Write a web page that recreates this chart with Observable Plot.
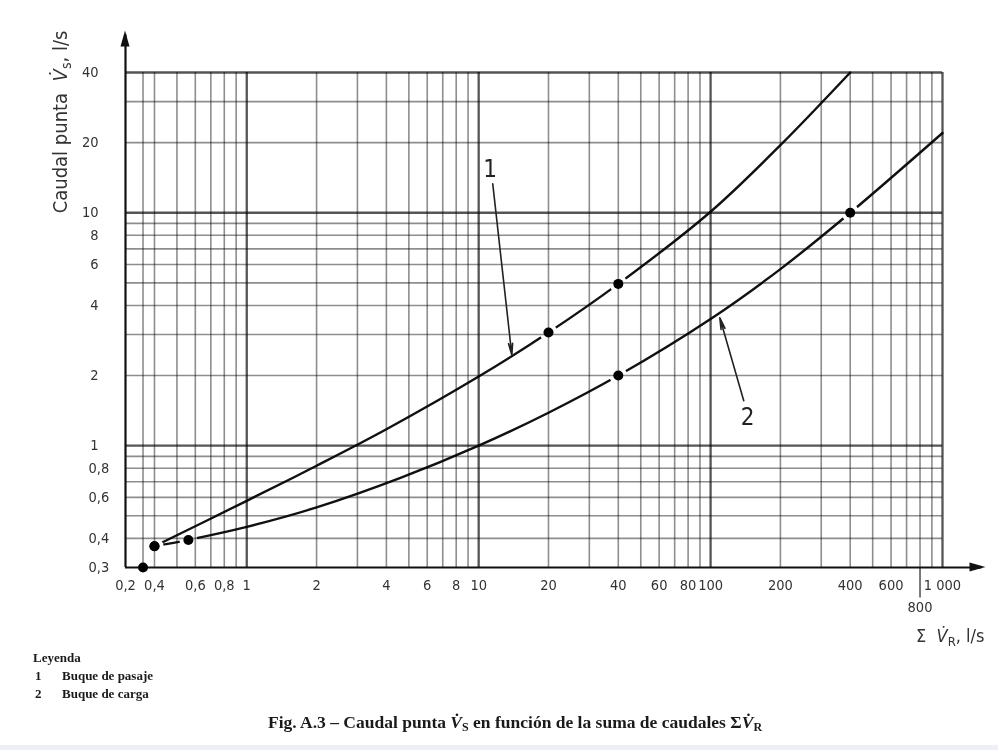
<!DOCTYPE html>
<html>
<head>
<meta charset="utf-8">
<script src="https://cdn.jsdelivr.net/npm/d3@7"></script>
<script src="https://cdn.jsdelivr.net/npm/@observablehq/plot@0.6"></script>
<style>
  html, body { margin: 0; padding: 0; background: #fff; }
  body { width: 998px; height: 750px; overflow: hidden; position: relative; }
  #chart { position: absolute; left: 0; top: 0; }
  .legend { position: absolute; left: 33px; top: 649px; font-family: "Liberation Serif", serif; font-weight: bold; font-size: 13px; color: #1a1a1a; line-height: 18px; }
  .legend .n { display: inline-block; width: 27px; padding-left: 2px; }
  .caption { position: absolute; left: 268px; top: 711px; font-family: "Liberation Serif", serif; font-weight: bold; font-size: 17.5px; line-height: 22px; color: #1a1a1a; white-space: nowrap; }
  .caption sub { font-size: 12px; vertical-align: -3px; line-height: 0; }
  .band { position: absolute; left: 0; top: 745px; width: 998px; height: 5px; background: #eeeef5; }
</style>
</head>
<body>
<div id="chart"></div>
<div class="legend">
  <div>Leyenda</div>
  <div><span class="n">1</span>Buque de pasaje</div>
  <div><span class="n">2</span>Buque de carga</div>
</div>
<div class="caption">Fig. A.3 – Caudal punta <i>V̇</i><sub>S</sub> en función de la suma de caudales Σ<i>V̇</i><sub>R</sub></div>
<div class="band"></div>
<script>
// ---- data ----
const xDomain = [0.3, 1000];
const yDomain = [0.3, 40];

// curve 1: Buque de pasaje
const curve1X = [0.4, 1, 2, 4, 10, 20, 40, 100, 200, 400];
const curve1Y = [0.37, 0.58, 0.82, 1.176, 1.98, 3.06, 4.95, 10.1, 19.5, 40];
// curve 2: Buque de carga
const curve2X = [0.4, 0.56, 1, 2, 4.6, 10, 20, 40, 100, 200, 400, 1000];
const curve2Y = [0.37, 0.394, 0.448, 0.543, 0.727, 1.0, 1.385, 2.0, 3.5, 5.73, 10, 22];

// marked points
const dots1X = [0.4, 20, 40];
const dots1Y = [0.37, 3.06, 4.95];
const dots2X = [0.4, 0.56, 40, 400];
const dots2Y = [0.37, 0.394, 2, 10];
const dotsOtherX = [0.357];
const dotsOtherY = [0.3];

// tick labels
const xTickValues = [0.3, 0.4, 0.6, 0.8, 1, 2, 4, 6, 8, 10, 20, 40, 60, 80, 100, 200, 400, 600, 1000];
const xTickLabels = ["0,2", "0,4", "0,6", "0,8", "1", "2", "4", "6", "8", "10", "20", "40", "60", "80", "100", "200", "400", "600", "1 000"];
const xTickLowValues = [800];
const xTickLowLabels = ["800"];
const yTickValues = [0.3, 0.4, 0.6, 0.8, 1, 2, 4, 6, 8, 10, 20, 40];
const yTickLabels = ["0,3", "0,4", "0,6", "0,8", "1", "2", "4", "6", "8", "10", "20", "40"];

// grid lines
const xGridMinor = [0.357, 0.4, 0.5, 0.6, 0.7, 0.8, 0.9, 2, 3, 4, 5, 6, 7, 8, 9, 20, 30, 40, 50, 60, 70, 80, 90, 200, 300, 400, 500, 600, 700, 800, 900];
const xGridMajor = [1, 10, 100, 1000];
const yGridMinor = [0.4, 0.5, 0.6, 0.7, 0.8, 0.9, 2, 3, 4, 5, 6, 7, 8, 9, 20, 30];
const yGridMajor = [1, 10, 40];

// axis extents beyond the grid (arrow tips)
const xAxisEnd = 1480;
const yAxisEnd = 58;
const tick800End = 0.222;

// curve labels with leader arrows
const calloutLabels = ["1", "2"];
const calloutTextX = [11.2, 144.6];
const calloutTextY = [15.4, 1.32];
const calloutFromX = [11.5, 139];
const calloutFromY = [13.3, 1.56];
const calloutToX = [13.9, 109.6];
const calloutToY = [2.45, 3.54];

// ---- tables built from the arrays ----
const zip = (xs, ys) => xs.map((x, i) => ({x, y: ys[i]}));
const curve1 = zip(curve1X, curve1Y);
const curve2 = zip(curve2X, curve2Y);
const dots1 = zip(dots1X, dots1Y);
const dots2 = zip(dots2X, dots2Y);
const dotsAll = [...dots1, ...dots2, ...zip(dotsOtherX, dotsOtherY)];
const xTicks = xTickValues.map((v, i) => ({v, label: xTickLabels[i]}));
const xTicksLow = xTickLowValues.map((v, i) => ({v, label: xTickLowLabels[i]}));
const yTicks = yTickValues.map((v, i) => ({v, label: yTickLabels[i], dec: yTickLabels[i].includes(",")}));
const callouts = calloutLabels.map((label, i) => ({
  label, tx: calloutTextX[i], ty: calloutTextY[i],
  x1: calloutFromX[i], y1: calloutFromY[i], x2: calloutToX[i], y2: calloutToY[i]
}));

const FONT = "'DejaVu Sans Condensed', 'DejaVu Sans', sans-serif";
const W = 998, H = 650;
const mTop = 72, mBottom = H - 567, mLeft = 125, mRight = W - 942;

const plot = Plot.plot({
  width: W,
  height: H,
  marginLeft: mLeft,
  marginRight: mRight,
  marginTop: mTop,
  marginBottom: mBottom,
  x: {type: "log", domain: xDomain, axis: null},
  y: {type: "log", domain: yDomain, axis: null},
  style: {background: "transparent", overflow: "visible", fontFamily: FONT},
  marks: [
    Plot.line(curve2, {x: "x", y: "y", curve: "catmull-rom", stroke: "#111", strokeWidth: 2.4}),
    Plot.dot(dots2, {x: "x", y: "y", r: 9, fill: "white", stroke: "none"}),
    Plot.line(curve1, {x: "x", y: "y", curve: "catmull-rom", stroke: "#111", strokeWidth: 2.4}),
    Plot.dot(dots1, {x: "x", y: "y", r: 9, fill: "white", stroke: "none"}),
    // grid (multiplied so curves stay black)
    Plot.ruleX(xGridMinor, {stroke: "#8e8e8e", strokeWidth: 1.6, mixBlendMode: "multiply"}),
    Plot.ruleY(yGridMinor, {stroke: "#8e8e8e", strokeWidth: 1.6, mixBlendMode: "multiply"}),
    Plot.ruleX(xGridMajor, {stroke: "#555", strokeWidth: 2.3, mixBlendMode: "multiply"}),
    Plot.ruleY(yGridMajor, {stroke: "#555", strokeWidth: 2.3, mixBlendMode: "multiply"}),
    // 800 tick extends below the axis
    Plot.ruleX(xTicksLow, {x: "v", y1: yDomain[0], y2: tick800End, stroke: "#5a5a5a", strokeWidth: 1.6}),
    // axes
    Plot.ruleY([yDomain[0]], {x1: xDomain[0], x2: xAxisEnd, stroke: "#111", strokeWidth: 2.2}),
    Plot.ruleX([xDomain[0]], {y1: yDomain[0], y2: yAxisEnd, stroke: "#111", strokeWidth: 2.2}),
    // points
    Plot.dot(dotsAll, {x: "x", y: "y", r: 5, fill: "#000"}),
    // callouts
    Plot.arrow(callouts, {x1: "x1", y1: "y1", x2: "x2", y2: "y2", stroke: "#222", strokeWidth: 1.6, headLength: 11, headAngle: 20}),
    Plot.text(callouts, {x: "tx", y: "ty", text: "label", fontSize: 24, fill: "#222", fontFamily: FONT}),
    // tick labels
    Plot.text(xTicks, {x: "v", text: "label", frameAnchor: "bottom", dy: 22, fontSize: 14.5, fill: "#333", fontFamily: FONT}),
    Plot.text(xTicksLow, {x: "v", text: "label", frameAnchor: "bottom", dy: 44, fontSize: 14.5, fill: "#333", fontFamily: FONT}),
    Plot.text(yTicks.filter(d => !d.dec), {y: "v", text: "label", frameAnchor: "left", textAnchor: "end", dx: -27, fontSize: 14.5, fill: "#333", fontFamily: FONT}),
    Plot.text(yTicks.filter(d => d.dec), {y: "v", text: "label", frameAnchor: "left", textAnchor: "start", dx: -37, fontSize: 14.5, fill: "#333", fontFamily: FONT})
  ]
});

document.getElementById("chart").appendChild(plot);

// arrowheads and axis titles placed through the plot's scales
const sx = plot.scale("x"), sy = plot.scale("y");
const px = v => sx.apply(v), py = v => sy.apply(v);
const svg = d3.select(plot);
const ax0 = px(xDomain[0]), ay0 = py(yDomain[0]);
const yTip = py(yAxisEnd), xTip = px(xAxisEnd);
svg.append("path")
  .attr("d", `M${ax0},${yTip - 4} L${ax0 - 4.5},${yTip + 12} L${ax0 + 4.5},${yTip + 12} Z`)
  .attr("fill", "#111");
svg.append("path")
  .attr("d", `M${xTip + 4},${ay0} L${xTip - 12},${ay0 - 4.5} L${xTip - 12},${ay0 + 4.5} Z`)
  .attr("fill", "#111");

// y axis title
const yt = svg.append("text")
  .attr("transform", `translate(${ax0 - 58},${py(yDomain[1]) + 50}) rotate(-90)`)
  .attr("text-anchor", "middle")
  .attr("font-family", FONT)
  .attr("font-size", 20)
  .attr("fill", "#333");
yt.append("tspan").text("Caudal punta  ");
yt.append("tspan").attr("font-style", "italic").text("V̇");
yt.append("tspan").attr("font-size", 14).attr("dy", 4).text("s");
yt.append("tspan").attr("dy", -4).text(", l/s");

// x axis title
const xt = svg.append("text")
  .attr("x", xTip + 3)
  .attr("y", ay0 + 75)
  .attr("text-anchor", "end")
  .attr("font-family", FONT)
  .attr("font-size", 18)
  .attr("fill", "#333");
xt.append("tspan").text("Σ  ");
xt.append("tspan").attr("font-style", "italic").text("V̇");
xt.append("tspan").attr("font-size", 13).attr("dy", 4).text("R");
xt.append("tspan").attr("dy", -4).text(", l/s");
</script>
</body>
</html>
